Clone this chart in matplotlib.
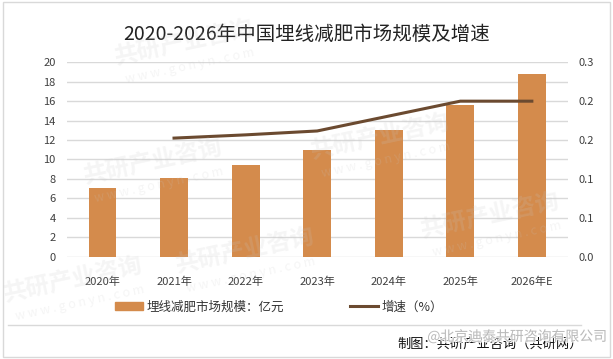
import matplotlib
matplotlib.use("Agg")
import matplotlib.pyplot as plt
import matplotlib.patheffects as pe
from matplotlib.patches import Patch, Rectangle
from matplotlib.lines import Line2D
from matplotlib.ticker import FormatStrFormatter, MultipleLocator

plt.rcParams['font.family'] = ['Noto Sans CJK SC', 'DejaVu Sans']

# data
years = ['2020年', '2021年', '2022年', '2023年', '2024年', '2025年', '2026年E']
market_size = [7.1, 8.1, 9.45, 11.0, 13.0, 15.6, 18.8]   # 亿元
growth_years = years[1:]
growth = [0.183, 0.188, 0.194, 0.217, 0.240, 0.240]

bar_color = '#D48B4C'
line_color = '#6B4A30'
grid_color = '#D9D9D9'

fig = plt.figure(figsize=(6.13, 3.59), dpi=100)
ax = fig.add_axes([0.1088, 0.285, 0.8172, 0.5415])

x = range(len(years))
ax.bar(x, market_size, width=0.39, color=bar_color, zorder=3)
ax.set_ylim(0, 20)
ax.yaxis.set_major_locator(MultipleLocator(2))
ax.set_xlim(-0.5, len(years) - 0.5)
ax.set_xticks(list(x))
ax.set_xticklabels(years)
ax.grid(axis='y', color=grid_color, linewidth=1, zorder=0)
ax.set_axisbelow(True)
ax.patch.set_alpha(0)

ax2 = ax.twinx()
gx = [years.index(y) for y in growth_years]
ax2.plot(gx, growth, color=line_color, linewidth=2.2, zorder=4)
ax2.set_ylim(0, 0.3)
ax2.yaxis.set_major_locator(MultipleLocator(0.06))
ax2.yaxis.set_major_formatter(FormatStrFormatter('%.1f'))

for a in (ax, ax2):
    for s in a.spines.values():
        s.set_visible(False)
    a.tick_params(length=0, labelsize=8, colors='#404040')
ax.tick_params(axis='y', pad=8)
ax.tick_params(axis='x', pad=14)
ax2.tick_params(axis='y', pad=8)

# faint watermarks, drawn over everything like in the source image
wm_pos = [(0.30, 0.88), (0.62, 0.62), (0.25, 0.55), (0.80, 0.40), (0.40, 0.30), (0.12, 0.22)]
for wx, wy in wm_pos:
    fig.text(wx, wy, '共研产业咨询', fontsize=17, fontweight='bold', color='#C8C8C8',
             alpha=0.18, rotation=12, ha='center', va='center', zorder=5)
    fig.text(wx + 0.01, wy - 0.065, 'w w w . g o n y n . c o m', fontsize=9, color='#C8C8C8',
             alpha=0.18, rotation=12, ha='center', va='center', zorder=5)

fig.text(0.5, 0.905, '2020-2026年中国埋线减肥市场规模及增速', ha='center', va='center',
         fontsize=14, fontweight='light', color='#222222')

handles = [Patch(color=bar_color), Line2D([0], [0], color=line_color, linewidth=2.2)]
labels = ['埋线减肥市场规模：亿元', '增速（%）']
fig.legend(handles, labels, loc='center', bbox_to_anchor=(0.455, 0.145), ncol=2,
           frameon=False, fontsize=9, handlelength=2.2, handleheight=0.6,
           handletextpad=0.3, columnspacing=5.3, labelcolor='#333333')

# separator line and source text
fig.add_artist(Line2D([0.013, 0.947], [0.094, 0.094], transform=fig.transFigure,
                      color=grid_color, linewidth=1))
fig.text(0.951, 0.042, '制图：共研产业咨询（共研网）', ha='right', va='center',
         fontsize=9.5, color='#111111')
fig.text(0.99, 0.062, '@北京迪泰共研咨询有限公司', ha='right', va='center',
         fontsize=10, color='#B0B0B0', alpha=0.85,
         path_effects=[pe.withStroke(linewidth=1.5, foreground='white')])

# outer border
fig.add_artist(Rectangle((0.005, 0.006), 0.99, 0.988, transform=fig.transFigure,
                         fill=False, edgecolor=grid_color, linewidth=1))

fig.savefig('out.png', dpi=100)
